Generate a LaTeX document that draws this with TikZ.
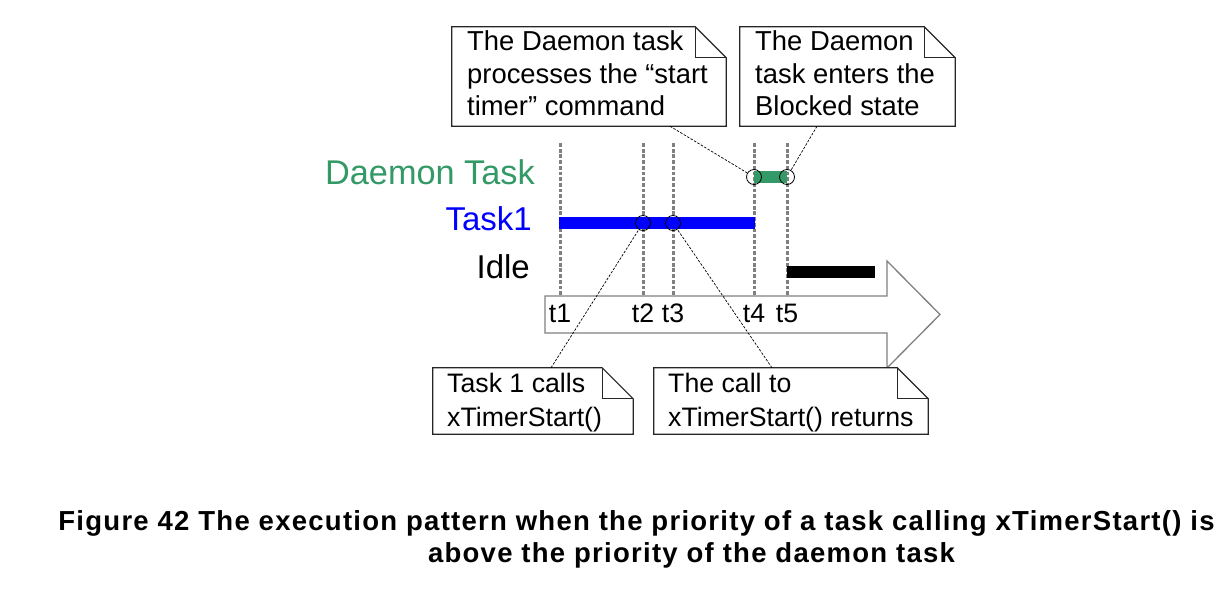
\documentclass[tikz,border=0pt]{standalone}
\usepackage{fontspec}
\setmainfont{Liberation Sans}
\newfontfamily\capfont{Liberation Sans}[LetterSpace=4.6]
\definecolor{dgreen}{RGB}{51,153,102}
\definecolor{tblue}{RGB}{0,0,255}
\definecolor{vgray}{RGB}{128,128,128}
\newcommand{\drawnote}[1]{%
  \draw[noteline] (#1.north west) -- ([xshift=-31pt]#1.north east) -- ([yshift=-31pt]#1.north east) -- (#1.south east) -- (#1.south west) -- cycle;
  \draw[noteline] ([xshift=-31pt]#1.north east) |- ([yshift=-31pt]#1.north east);}
\begin{document}
\begin{tikzpicture}[x=1pt,y=-1pt,
  noteline/.style={draw=black!85,line width=1.2pt,line join=miter},
  notearea/.style={draw=none,inner sep=0pt},
  boxtxt/.style={font=\fontsize{27.4}{32.5}\selectfont,anchor=north west,inner sep=0pt,align=left},
  lowtxt/.style={font=\fontsize{26.7}{34.2}\selectfont,anchor=north west,inner sep=0pt,align=left},
  tasklbl/.style={font=\fontsize{33}{36}\selectfont,anchor=base east,inner sep=0pt},
  tlbl/.style={font=\fontsize{26.7}{30}\selectfont,anchor=base,inner sep=0pt},
  vline/.style={draw=vgray,line width=3pt,dash pattern=on 3.8pt off 1.9pt},
  leader/.style={draw=black,line width=0.7pt,dash pattern=on 2.5pt off 1.5pt},
  markc/.style={circle,draw=black,line width=0.8pt,minimum size=15pt,inner sep=0pt},
  bigarrow/.style={draw=vgray,line width=1.3pt,fill=white,line join=miter},
  captxt/.style={font=\capfont\bfseries\fontsize{27.5}{31.6}\selectfont,anchor=base,inner sep=0pt}]
\useasboundingbox (0,0) rectangle (1229,590);
\fill[white] (0,0) rectangle (1229,590);

% time arrow
\draw[bigarrow] (545,296) -- (887,296) -- (887,261) -- (940,314.5) -- (887,368) -- (887,333) -- (545,333) -- cycle;

% time markers
\foreach \n/\x in {1/560,2/643,3/673,4/754,5/787}{
  \coordinate (top\n) at (\x,143);
  \coordinate (bot\n) at (\x,296);
  \draw[vline] (top\n) -- (bot\n);
  \node[tlbl] (tl\n) at (\x,322) {t\n};
}

% bars
\fill[dgreen] (754,170.7) rectangle (787,183.3);
\fill[tblue] (559,217) rectangle (755,229);
\fill[black] (787,266) rectangle (875,278);

% circles
\node[markc] (c2) at (643,223) {};
\node[markc] (c3) at (673,223) {};
\node[markc] (c4) at (754,177) {};
\node[markc] (c5) at (787,177) {};

% task labels
\node[tasklbl,text=dgreen,font=\fontsize{34.3}{36}\selectfont] (ldaemon) at (535,184) {Daemon Task};
\node[tasklbl,text=tblue] (ltask1) at (532,230) {Task1};
\node[tasklbl,text=black] (lidle) at (530,278) {Idle};

% note boxes
\node[notearea,minimum width=274pt,minimum height=99pt] (b1) at (589,76.5) {};
\node[notearea,minimum width=215pt,minimum height=99pt] (b2) at (847.5,76.5) {};
\node[notearea,minimum width=200pt,minimum height=66pt] (b3) at (533,401) {};
\node[notearea,minimum width=274pt,minimum height=66pt] (b4) at (791,401) {};
\fill[white] (b1.north west) rectangle (b1.south east);
\fill[white] (b2.north west) rectangle (b2.south east);
\fill[white] (b3.north west) rectangle (b3.south east);
\fill[white] (b4.north west) rectangle (b4.south east);
\drawnote{b1}
\drawnote{b2}
\drawnote{b3}
\drawnote{b4}

\node[boxtxt] (t1txt) at (467,30.6) {The Daemon task\\processes the “start\\timer” command};
\node[boxtxt] (t2txt) at (755,30.6) {The Daemon\\task enters the\\Blocked state};
\node[lowtxt] (t3txt) at (447,373) {Task 1 calls\\xTimerStart()};
\node[lowtxt] (t4txt) at (668,373) {The call to\\xTimerStart() returns};

% leader lines
\draw[leader] ([xshift=81pt]b1.south) -- (c4);
\draw[leader] ([xshift=-30.5pt]b2.south) -- (c5);
\draw[leader] ([xshift=18pt]b3.north) -- (c2);
\draw[leader] ([xshift=-19pt]b4.north) -- (c3);

% caption
\node[captxt] (cap1) at (636.5,530) {Figure 42 The execution pattern when the priority of a task calling xTimerStart() is};
\node[captxt] (cap2) at (691.5,562) {above the priority of the daemon task};
\end{tikzpicture}
\end{document}
